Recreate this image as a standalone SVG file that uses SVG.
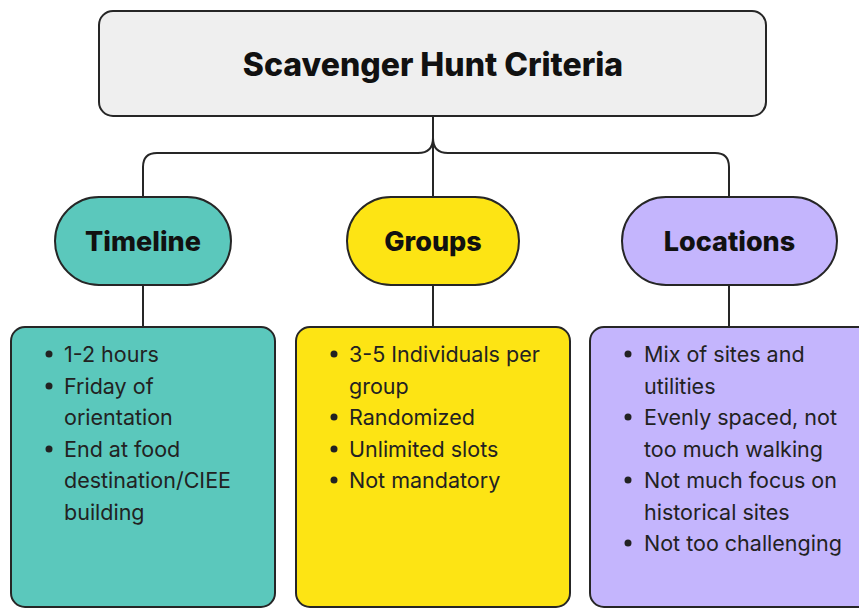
<svg xmlns="http://www.w3.org/2000/svg" width="859" height="609" viewBox="0 0 859 609">
<style>
.shape{stroke:#262626;stroke-width:2}
.conn{fill:none;stroke:#262626;stroke-width:2}
.title{font-family:Inter,"Liberation Sans",sans-serif;font-weight:800;font-size:32px;fill:#111;text-anchor:middle}
.head{font-family:Inter,"Liberation Sans",sans-serif;font-weight:800;font-size:27px;fill:#111;text-anchor:middle}
.body{font-family:Inter,"Liberation Sans",sans-serif;font-size:21.5px;fill:#222}
</style>
<rect width="859" height="609" fill="#ffffff"/>
<g id="connectors">
<path class="conn" d="M433,116 V197"/>
<path class="conn" d="M433,138 Q433,153 418,153 H157 Q143,153 143,167 V197"/>
<path class="conn" d="M433,138 Q433,153 448,153 H715 Q729,153 729,167 V197"/>
<path class="conn" d="M143,285 V327"/>
<path class="conn" d="M433,285 V327"/>
<path class="conn" d="M729,285 V327"/>
</g>
<g id="title">
<rect class="shape" x="99" y="11" width="667" height="105" rx="14" fill="#efefef"/>
<text class="title" x="433" y="76">Scavenger Hunt Criteria</text>
</g>
<g id="timeline">
<rect class="shape" x="55" y="197" width="176" height="88" rx="44" fill="#5bc8bc"/>
<text class="head" x="143" y="251">Timeline</text>
</g>
<g id="groups">
<rect class="shape" x="347" y="197" width="172" height="88" rx="44" fill="#fde414"/>
<text class="head" x="433" y="251">Groups</text>
</g>
<g id="locations">
<rect class="shape" x="622" y="197" width="215" height="88" rx="44" fill="#c4b5fd"/>
<text class="head" x="729.5" y="251">Locations</text>
</g>
<g id="timeline-details">
<rect class="shape" x="11" y="327" width="264" height="280" rx="14" fill="#5bc8bc"/>
<g class="body">
<circle cx="49" cy="354" r="3.5" fill="#222"/>
<text x="64" y="362">1-2 hours</text>
<circle cx="49" cy="386" r="3.5" fill="#222"/>
<text x="64" y="394">Friday of</text>
<text x="64" y="425">orientation</text>
<circle cx="49" cy="449" r="3.5" fill="#222"/>
<text x="64" y="457">End at food</text>
<text x="64" y="488">destination/CIEE</text>
<text x="64" y="520">building</text>
</g>
</g>
<g id="groups-details">
<rect class="shape" x="296" y="327" width="274" height="280" rx="14" fill="#fde414"/>
<g class="body">
<circle cx="334" cy="354" r="3.5" fill="#222"/>
<text x="349" y="362">3-5 Individuals per</text>
<text x="349" y="394">group</text>
<circle cx="334" cy="417" r="3.5" fill="#222"/>
<text x="349" y="425">Randomized</text>
<circle cx="334" cy="449" r="3.5" fill="#222"/>
<text x="349" y="457">Unlimited slots</text>
<circle cx="334" cy="480" r="3.5" fill="#222"/>
<text x="349" y="488">Not mandatory</text>
</g>
</g>
<g id="locations-details">
<rect class="shape" x="590" y="327" width="290" height="280" rx="14" fill="#c4b5fd"/>
<g class="body">
<circle cx="628" cy="354" r="3.5" fill="#222"/>
<text x="644" y="362">Mix of sites and</text>
<text x="644" y="394">utilities</text>
<circle cx="628" cy="417" r="3.5" fill="#222"/>
<text x="644" y="425">Evenly spaced, not</text>
<text x="644" y="457">too much walking</text>
<circle cx="628" cy="480" r="3.5" fill="#222"/>
<text x="644" y="488">Not much focus on</text>
<text x="644" y="520">historical sites</text>
<circle cx="628" cy="543" r="3.5" fill="#222"/>
<text x="644" y="551">Not too challenging</text>
</g>
</g>
</svg>
